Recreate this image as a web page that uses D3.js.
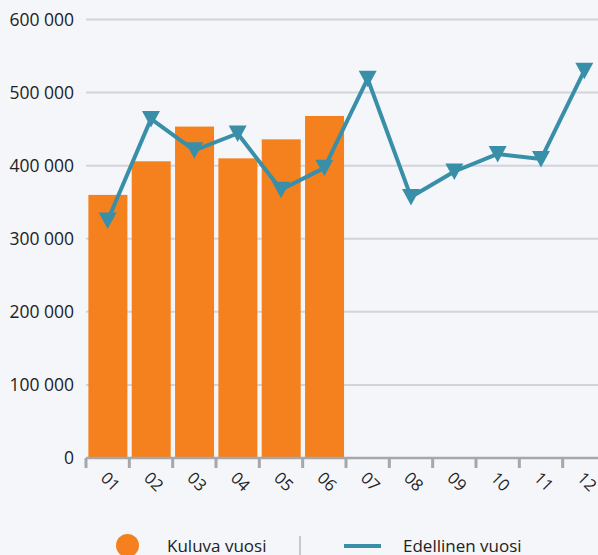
<!DOCTYPE html>
<html><head><meta charset="utf-8">
<script src="https://cdn.jsdelivr.net/npm/d3@7"></script>
<style>
html,body{margin:0;padding:0;background:#f4f6fa;overflow:hidden;}
svg{display:block;font-family:"Open Sans","Noto Sans",sans-serif;}
</style></head>
<body>
<svg id="c" width="598" height="555"></svg>
<script>
const months = ["01","02","03","04","05","06","07","08","09","10","11","12"];
const currentYear = [360000, 406000, 453500, 410000, 436000, 468000];
const previousYear = [325000, 464000, 421000, 444000, 367000, 397000, 519000, 357000, 392000, 416000, 409000, 530000];
const yTicks = [0, 100000, 200000, 300000, 400000, 500000, 600000];
const seriesNames = ["Kuluva vuosi", "Edellinen vuosi"];

const orange = "#f5801e", teal = "#3a8fa8";
const svg = d3.select("#c");
svg.append("rect").attr("width",598).attr("height",555).attr("fill","#f4f6fa");

const x = d3.scaleBand().domain(months).range([86, 606]).padding(0);
const y = d3.scaleLinear().domain([0, 600000]).range([458, 19.5]);
const fmt = v => d3.format(",")(v).replace(/,/g, " ");

// grid
svg.append("g").selectAll("line").data(yTicks.filter(d=>d>0)).join("line")
  .attr("x1", 86).attr("x2", 598)
  .attr("y1", d=>y(d)).attr("y2", d=>y(d))
  .attr("stroke", "#d3d4da").attr("stroke-width", 2);

// y labels
svg.append("g").selectAll("text").data(yTicks).join("text")
  .attr("x", 74).attr("y", d=>y(d)+6)
  .attr("text-anchor","end").attr("font-size",17.5).attr("fill","#222")
  .text(fmt);

// bars
const bw = x.bandwidth();
svg.append("g").selectAll("rect").data(currentYear).join("rect")
  .attr("x", (d,i)=>x(months[i]) + bw*0.055)
  .attr("width", bw*0.9)
  .attr("y", d=>y(d)).attr("height", d=>y(0)-y(d))
  .attr("fill", orange);

// x axis
svg.append("line").attr("x1",86).attr("x2",598).attr("y1",458).attr("y2",458)
  .attr("stroke","#a5a7ab").attr("stroke-width",2.5);
const tickPos = months.map(m=>x(m));
svg.append("g").selectAll("line").data(tickPos).join("line")
  .attr("x1",d=>d).attr("x2",d=>d).attr("y1",458).attr("y2",468)
  .attr("stroke","#a5a7ab").attr("stroke-width",3);
svg.append("g").selectAll("text").data(months).join("text")
  .attr("transform", d=>`translate(${x(d)+bw/2-8},479) rotate(45)`)
  .attr("text-anchor","start").attr("font-size",16.5).attr("fill","#222")
  .text(d=>d);

// line
const line = d3.line().x((d,i)=>x(months[i])+bw/2).y(d=>y(d));
svg.append("path").datum(previousYear).attr("d", line)
  .attr("fill","none").attr("stroke",teal).attr("stroke-width",4).attr("stroke-linejoin","round");
const tri = "M-9,-8 L9,-8 L0,8.5 Z";
svg.append("g").selectAll("path").data(previousYear).join("path")
  .attr("transform",(d,i)=>`translate(${x(months[i])+bw/2},${y(d)})`)
  .attr("d", tri).attr("fill", teal);

// legend
const lg = svg.append("g");
lg.append("circle").attr("cx",127.5).attr("cy",545.5).attr("r",11.5).attr("fill",orange);
lg.append("text").attr("x",167).attr("y",552).attr("font-size",17).attr("fill","#222").text(seriesNames[0]);
lg.append("line").attr("x1",300).attr("x2",300).attr("y1",536).attr("y2",555).attr("stroke","#c8c9cd").attr("stroke-width",2);
lg.append("line").attr("x1",344).attr("x2",381).attr("y1",546).attr("y2",546).attr("stroke",teal).attr("stroke-width",4);
lg.append("text").attr("x",403).attr("y",552).attr("font-size",17).attr("fill","#222").text(seriesNames[1]);
</script>
</body></html>
